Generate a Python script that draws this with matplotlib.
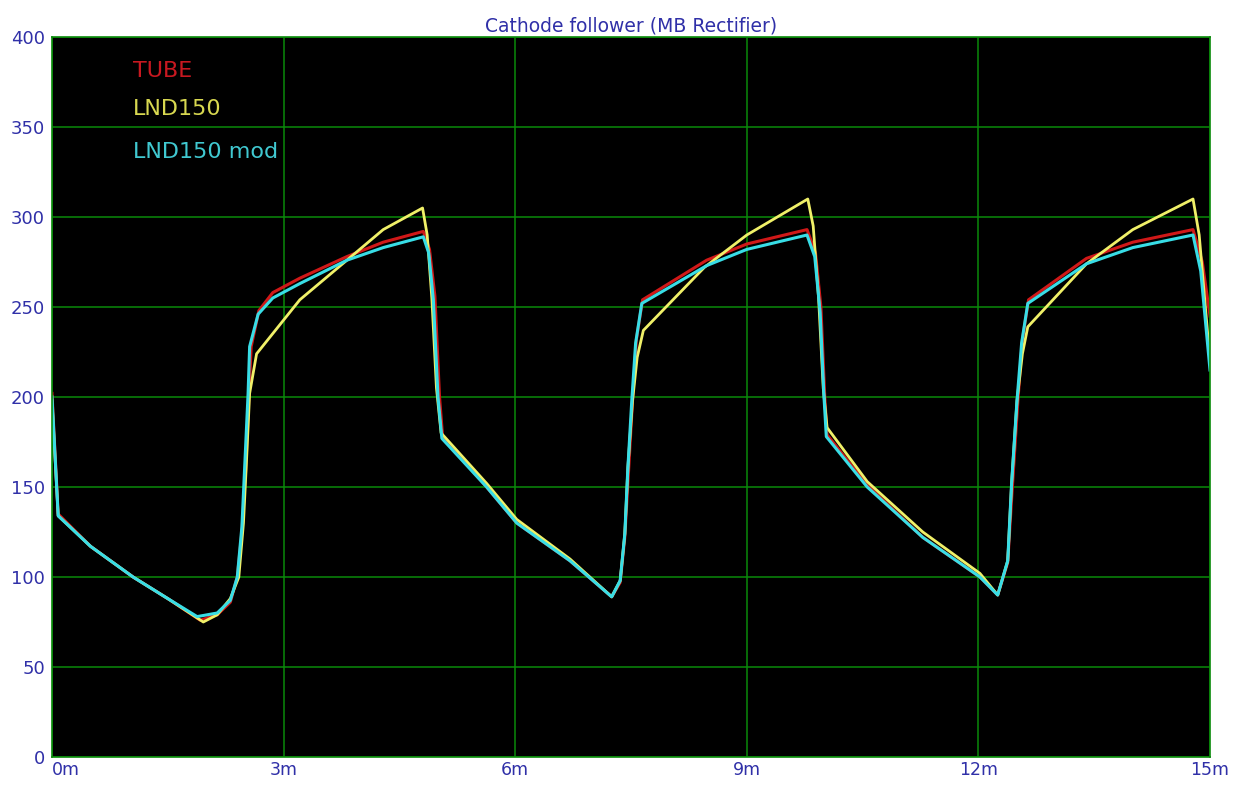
import numpy as np
import matplotlib.pyplot as plt
from matplotlib.ticker import FuncFormatter

# time in ms, voltage in V
t_tube = [0, 0.08, 0.5, 1.05, 1.5, 1.92, 2.14, 2.31, 2.40, 2.46, 2.51, 2.55, 2.58, 2.68, 2.86, 3.21,
          3.82, 4.29, 4.81, 4.89, 4.96, 5.02, 5.06, 5.63, 6.02, 6.71, 7.25, 7.36, 7.42, 7.47, 7.52,
          7.57, 7.65, 8.48, 9.0, 9.78, 9.89, 9.96, 10.01, 10.04, 10.56, 11.28, 12.02, 12.25, 12.38,
          12.44, 12.51, 12.57, 12.65, 13.4, 14.0, 14.78, 14.9, 15.0]
v_tube = [202, 135, 117, 100, 88, 76, 79, 86, 100, 125, 160, 200, 228, 248, 258, 266,
          278, 286, 292, 282, 256, 200, 178, 150, 130, 109, 89, 97, 122, 160, 198,
          232, 254, 276, 285, 293, 280, 250, 200, 179, 151, 122, 100, 90, 108,
          150, 197, 232, 254, 277, 286, 293, 275, 245]

t_lnd = [0, 0.08, 0.5, 1.05, 1.5, 1.96, 2.14, 2.31, 2.42, 2.48, 2.52, 2.56, 2.65, 3.21, 3.82, 4.29,
         4.8, 4.86, 4.92, 4.98, 5.04, 5.63, 6.02, 6.71, 7.25, 7.36, 7.42, 7.46, 7.52, 7.58, 7.66,
         8.45, 9.0, 9.79, 9.86, 9.93, 9.99, 10.04, 10.56, 11.28, 12.02, 12.25, 12.38, 12.43, 12.5,
         12.57, 12.64, 13.4, 14.0, 14.78, 14.86, 14.94, 15.0]
v_lnd = [198, 134, 117, 100, 88, 75, 79, 88, 100, 130, 165, 202, 224, 254, 276, 293,
         305, 290, 255, 205, 180, 152, 132, 110, 89, 98, 124, 161, 198, 222, 237,
         272, 290, 310, 295, 255, 205, 183, 153, 125, 102, 90, 109, 152, 198,
         224, 239, 274, 293, 310, 290, 250, 220]

t_mod = [0, 0.08, 0.5, 1.05, 1.5, 1.88, 2.14, 2.31, 2.40, 2.46, 2.50, 2.54, 2.56, 2.67, 2.86, 3.21,
         3.82, 4.29, 4.81, 4.88, 4.94, 5.0, 5.05, 5.63, 6.02, 6.71, 7.25, 7.36, 7.42, 7.46, 7.51,
         7.56, 7.64, 8.48, 9.0, 9.78, 9.88, 9.95, 10.0, 10.03, 10.56, 11.28, 12.02, 12.25, 12.38,
         12.43, 12.5, 12.56, 12.64, 13.4, 14.0, 14.78, 14.88, 15.0]
v_mod = [200, 134, 117, 100, 88, 78, 80, 87, 100, 128, 165, 202, 228, 246, 255, 263,
         276, 283, 289, 280, 254, 200, 177, 150, 130, 109, 89, 98, 124, 161, 198,
         230, 252, 273, 282, 290, 278, 247, 200, 178, 150, 122, 100, 90, 109,
         152, 198, 230, 252, 274, 283, 290, 270, 215]

x_ticks = [0, 3, 6, 9, 12, 15]
y_ticks = [0, 50, 100, 150, 200, 250, 300, 350, 400]

blue = '#3030a8'
green = '#0a8a0a'

fig = plt.figure(figsize=(12.42, 7.89), dpi=100)
ax = fig.add_axes([52 / 1242, 32 / 789, 1158 / 1242, 720 / 789])
ax.set_facecolor('black')

ax.plot(t_tube, v_tube, color='#d01818', lw=2.2)
ax.plot(t_lnd, v_lnd, color='#f0f068', lw=2.0)
ax.plot(t_mod, v_mod, color='#38dde6', lw=2.2)

ax.set_xlim(0, 15)
ax.set_ylim(0, 400)
ax.set_xticks(x_ticks)
ax.set_yticks(y_ticks)
ax.xaxis.set_major_formatter(FuncFormatter(lambda v, p: '%dm' % v))
ax.grid(True, color=green, lw=1.1)
ax.set_axisbelow(True)
for s in ax.spines.values():
    s.set_color(green)
    s.set_linewidth(1.2)
ax.tick_params(length=0, labelsize=13, colors=blue)
ax.tick_params(axis='x', pad=3, labelsize=12.5)
ax.tick_params(axis='y', pad=5)
# first x label sits right of the corner, the rest are centred
ax.get_xticklabels()[0].set_horizontalalignment('left')
ax.get_xticklabels()[0].set_x(0.03)
xl = ax.get_xticklabels()
xl[0].set_horizontalalignment('left')

ax.set_title('Cathode follower (MB Rectifier)', color=blue, fontsize=13.5, pad=4)

ax.text(0.07, 0.953, 'TUBE', color='#c81820', fontsize=16, transform=ax.transAxes, va='center')
ax.text(0.07, 0.900, 'LND150', color='#d8d850', fontsize=16, transform=ax.transAxes, va='center')
ax.text(0.07, 0.840, 'LND150 mod', color='#40c8d0', fontsize=16, transform=ax.transAxes, va='center')

fig.savefig('out.png', dpi=100, facecolor='white')
